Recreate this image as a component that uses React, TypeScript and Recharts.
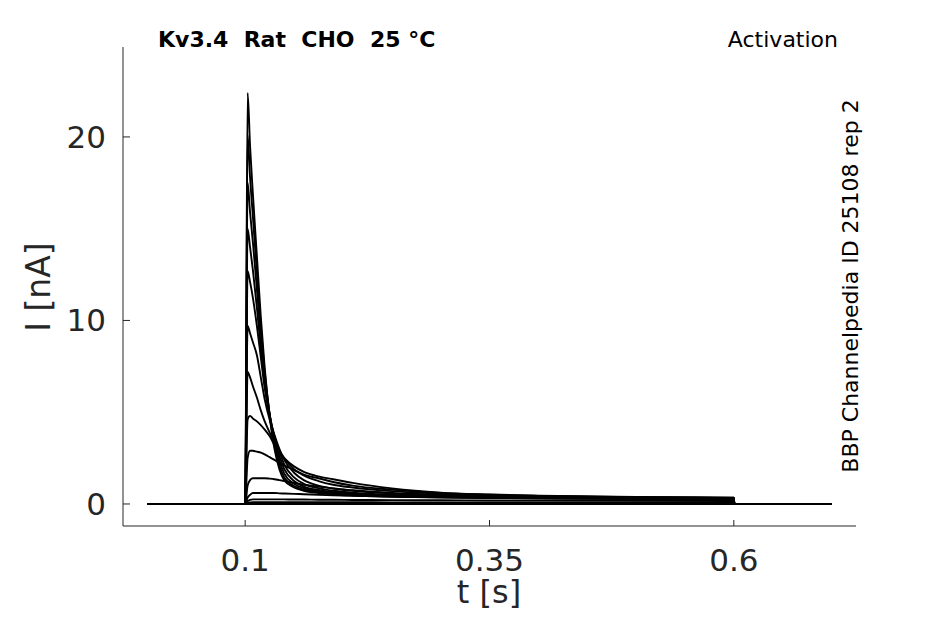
import { LineChart, Line, XAxis, YAxis } from 'recharts'

// sample times (s)
const times = [0, 0.1, 0.1025, 0.105, 0.108, 0.112, 0.116, 0.12, 0.125, 0.13, 0.135, 0.14, 0.15, 0.16, 0.175, 0.19, 0.21, 0.25, 0.3, 0.35, 0.4, 0.5, 0.6, 0.6005, 0.7]

// current traces (nA), one per voltage step
const trace1 = [0, 0, 22.4, 19.5, 16.8, 13.5, 10.2, 7.4, 4.8, 3.0, 1.9, 1.3, 0.9, 0.72, 0.6, 0.52, 0.46, 0.4, 0.36, 0.33, 0.31, 0.29, 0.27, 0, 0]
const trace2 = [0, 0, 20.1, 17.8, 15.6, 12.6, 9.7, 7.2, 4.9, 3.2, 2.1, 1.45, 0.98, 0.78, 0.64, 0.55, 0.48, 0.41, 0.37, 0.34, 0.32, 0.29, 0.27, 0, 0]
const trace3 = [0, 0, 17.5, 15.9, 14.2, 11.7, 9.1, 6.9, 4.9, 3.4, 2.35, 1.65, 1.1, 0.86, 0.7, 0.6, 0.52, 0.44, 0.39, 0.35, 0.33, 0.3, 0.28, 0, 0]
const trace4 = [0, 0, 15.0, 14.0, 12.7, 10.7, 8.5, 6.6, 4.9, 3.6, 2.6, 1.9, 1.25, 0.95, 0.76, 0.65, 0.56, 0.47, 0.41, 0.37, 0.34, 0.31, 0.29, 0, 0]
const trace5 = [0, 0, 12.7, 12.1, 11.2, 9.7, 8.0, 6.3, 4.8, 3.7, 2.85, 2.15, 1.45, 1.1, 0.86, 0.72, 0.62, 0.51, 0.44, 0.39, 0.36, 0.32, 0.3, 0, 0]
const trace6 = [0, 0, 9.7, 9.3, 8.8, 8.1, 6.9, 5.7, 4.6, 3.75, 3.0, 2.4, 1.7, 1.3, 1.0, 0.84, 0.72, 0.58, 0.48, 0.42, 0.38, 0.34, 0.31, 0, 0]
const trace7 = [0, 0, 7.2, 6.9, 6.4, 5.8, 5.1, 4.5, 3.9, 3.35, 2.9, 2.5, 1.9, 1.55, 1.25, 1.05, 0.9, 0.7, 0.56, 0.47, 0.42, 0.36, 0.33, 0, 0]
const trace8 = [0, 0, 4.6, 4.8, 4.65, 4.5, 4.3, 4.05, 3.7, 3.2, 2.8, 2.5, 2.05, 1.75, 1.5, 1.35, 1.15, 0.85, 0.62, 0.52, 0.45, 0.38, 0.34, 0, 0]
const trace9 = [0, 0, 2.5, 2.9, 2.9, 2.85, 2.8, 2.7, 2.55, 2.4, 2.25, 2.1, 1.85, 1.6, 1.4, 1.2, 1.0, 0.78, 0.6, 0.5, 0.44, 0.37, 0.34, 0, 0]
const trace10 = [0, 0, 1.0, 1.3, 1.4, 1.4, 1.4, 1.4, 1.38, 1.35, 1.3, 1.25, 1.15, 1.05, 0.95, 0.85, 0.75, 0.6, 0.5, 0.44, 0.4, 0.35, 0.32, 0, 0]
const trace11 = [0, 0, 0.35, 0.5, 0.6, 0.6, 0.6, 0.6, 0.6, 0.6, 0.58, 0.57, 0.55, 0.53, 0.5, 0.47, 0.44, 0.4, 0.36, 0.33, 0.3, 0.27, 0.25, 0, 0]
const trace12 = [0, 0, 0.15, 0.22, 0.25, 0.25, 0.25, 0.25, 0.25, 0.25, 0.25, 0.25, 0.24, 0.24, 0.23, 0.23, 0.22, 0.21, 0.2, 0.19, 0.18, 0.17, 0.16, 0, 0]
const trace13 = [0, 0, 0.05, 0.08, 0.1, 0.1, 0.1, 0.1, 0.1, 0.1, 0.1, 0.1, 0.1, 0.1, 0.1, 0.1, 0.1, 0.09, 0.09, 0.09, 0.08, 0.08, 0.08, 0, 0]
const trace14 = [0, 0, 0, 0, 0, 0, 0, 0, 0, 0, 0, 0, 0, 0, 0, 0, 0, 0, 0, 0, 0, 0, 0, 0, 0]

const traces = [trace1, trace2, trace3, trace4, trace5, trace6, trace7, trace8, trace9, trace10, trace11, trace12, trace13, trace14]

const xTicks = [0.1, 0.35, 0.6]
const yTicks = [0, 10, 20]

const chartData = times.map((t, i) => {
  const row: any = { t }
  traces.forEach((tr, k) => {
    row['s' + k] = tr[i]
  })
  return row
})

const font = '"DejaVu Sans", sans-serif'
const axisColor = '#262626'

export default function App() {
  return (
    <div style={{ position: 'absolute', left: 0, top: 0, width: 945, height: 624, background: '#fff', fontFamily: font }}>
      <LineChart width={945} height={624} data={chartData} margin={{ top: 47, right: 89, left: 0, bottom: 0 }}>
        <XAxis
          dataKey="t"
          type="number"
          domain={[-0.025, 0.725]}
          ticks={xTicks}
          allowDataOverflow
          height={98}
          stroke={axisColor}
          tickSize={-6}
          tickMargin={29}
          tick={{ fill: axisColor, fontSize: 31, fontFamily: font }}
        />
        <YAxis
          type="number"
          domain={[-1.2, 24.9]}
          ticks={yTicks}
          allowDataOverflow
          width={123}
          stroke={axisColor}
          tickSize={-7}
          tickMargin={24}
          tick={{ fill: axisColor, fontSize: 31, fontFamily: font }}
        />
        {traces.map((_, k) => (
          <Line
            key={k}
            type="monotone"
            dataKey={'s' + k}
            stroke="#000"
            strokeWidth={1.9}
            dot={false}
            activeDot={false}
            isAnimationActive={false}
          />
        ))}
      </LineChart>
      <svg width={945} height={624} style={{ position: 'absolute', left: 0, top: 0, pointerEvents: 'none' }}>
        <text x={158} y={47} fontSize={22} fontWeight="bold" fill="#000" fontFamily={font} style={{ whiteSpace: 'pre' }}>
          {'Kv3.4  Rat  CHO  25 °C'}
        </text>
        <text x={838} y={47} fontSize={22} fill="#000" fontFamily={font} textAnchor="end">
          Activation
        </text>
        <text
          x={858}
          y={286}
          fontSize={22}
          fill="#000"
          fontFamily={font}
          textAnchor="middle"
          transform="rotate(-90 858 286)"
        >
          BBP Channelpedia ID 25108 rep 2
        </text>
        <text x={489} y={603} fontSize={32} fill={axisColor} fontFamily={font} textAnchor="middle">
          t [s]
        </text>
        <text
          x={50}
          y={287}
          fontSize={33}
          fill={axisColor}
          fontFamily={font}
          textAnchor="middle"
          transform="rotate(-90 50 287)"
        >
          I [nA]
        </text>
      </svg>
    </div>
  )
}
